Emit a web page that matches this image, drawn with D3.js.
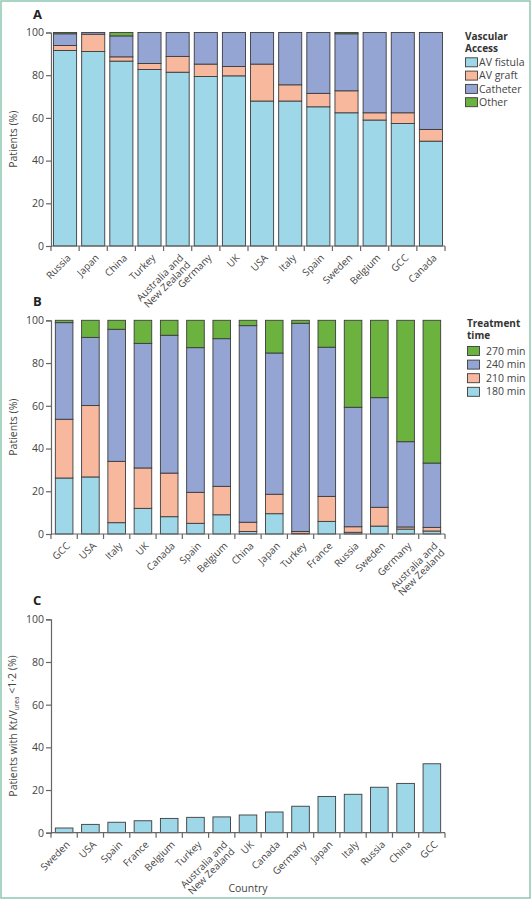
<!DOCTYPE html>
<html><head><meta charset="utf-8">
<script src="https://cdn.jsdelivr.net/npm/d3@7"></script>
<style>
html,body{margin:0;padding:0;background:#fff;}
svg{display:block;font-family:"Open Sans",sans-serif;}
</style></head>
<body><svg id="c" width="532" height="900"></svg>
<script>
// ---------- Data ----------
const accessCountries = ["Russia","Japan","China","Turkey","Australia and\nNew Zealand","Germany","UK","USA","Italy","Spain","Sweden","Belgium","GCC","Canada"];
const avFistula = [91.6,91.1,86.6,82.7,81.4,79.4,79.7,67.9,67.9,65.2,62.4,59.0,57.4,49.1];
const avGraft   = [2.3,8.1,2.0,2.8,7.4,5.8,4.4,17.3,7.6,6.3,10.3,3.4,5.0,5.5];
const catheter  = [5.5,0.8,9.8,14.5,11.2,14.8,15.9,14.8,24.5,28.5,26.7,37.6,37.6,45.4];
const otherAcc  = [0.6,0,1.6,0,0,0,0,0,0,0,0.6,0,0,0];
const accessKeys = ["AV fistula","AV graft","Catheter","Other"];

const timeCountries = ["GCC","USA","Italy","UK","Canada","Spain","Belgium","China","Japan","Turkey","France","Russia","Sweden","Germany","Australia and\nNew Zealand"];
const t180 = [26.2,26.7,5.3,12.0,8.1,5.0,9.0,1.2,9.5,0.3,5.9,0.8,3.7,2.3,1.4];
const t210 = [27.5,33.4,28.7,18.9,20.4,14.5,13.3,4.3,9.1,0.9,11.7,2.6,8.8,1.0,1.7];
const t240 = [45.2,31.9,61.8,58.3,64.5,67.7,69.1,92.0,66.1,97.4,69.8,55.9,51.3,39.9,30.1];
const t270 = [1.1,8.0,4.2,10.8,7.0,12.8,8.6,2.5,15.3,1.4,12.6,40.7,36.2,56.8,66.8];
const timeKeys = ["270 min","240 min","210 min","180 min"];

const ktvCountries = ["Sweden","USA","Spain","France","Belgium","Turkey","Australia and\nNew Zealand","UK","Canada","Germany","Japan","Italy","Russia","China","GCC"];
const ktvValues = [2.2,3.9,4.9,5.6,6.7,7.2,7.4,8.3,9.7,12.4,17.0,18.0,21.3,23.1,32.3];

const yTicks = [0,20,40,60,80,100];

// ---------- Style ----------
const C_FIST="#9dd7e8", C_GRAFT="#f8b89e", C_CATH="#94a4d3", C_OTHER="#6cb23f";
const STROKE="#3c3c3c", AXIS="#666", TXT="#444";

const svg = d3.select("#c");
svg.append("rect").attr("x",1).attr("y",1).attr("width",529).attr("height",897)
  .attr("fill","none").attr("stroke","#8fc7b0").attr("stroke-width",1.5);

function panel(opts){
  const {cats, top, bottom, left, right, frac, label, ytitle, stacks, colors} = opts;
  const g = svg.append("g");
  const x = d3.scaleBand().domain(cats).range([left,right]).padding(0);
  const y = d3.scaleLinear().domain([0,100]).range([bottom,top]);
  const bw = x.bandwidth()*frac;
  const off = (x.bandwidth()-bw)/2;
  stacks.forEach((s,si)=>{
    g.append("g").selectAll("rect").data(s).join("rect")
      .attr("x",d=>x(d.cat)+off).attr("width",bw)
      .attr("y",d=>y(d.y1)).attr("height",d=>Math.max(0,y(d.y0)-y(d.y1)))
      .attr("fill",colors[si]).attr("stroke",STROKE).attr("stroke-width",0.9);
  });
  const ya = g.append("g").attr("transform",`translate(${left},0)`)
    .call(d3.axisLeft(y).tickValues(yTicks).tickSize(5).tickPadding(2));
  ya.select(".domain").attr("stroke",AXIS).attr("stroke-width",1.2);
  ya.selectAll(".tick line").attr("stroke",AXIS).attr("stroke-width",1.2);
  ya.selectAll("text").attr("fill",TXT).style("font-size","10.5px").style("font-family","Open Sans");
  g.append("line").attr("x1",left).attr("x2",right).attr("y1",bottom).attr("y2",bottom)
    .attr("stroke",AXIS).attr("stroke-width",1.2);
  const bounds = cats.map(c=>x(c)).concat([right]);
  g.append("g").selectAll("line").data(bounds).join("line")
    .attr("x1",d=>d).attr("x2",d=>d).attr("y1",bottom).attr("y2",bottom+5)
    .attr("stroke",AXIS).attr("stroke-width",1.2);
  cats.forEach(c=>{
    const cx = x(c)+x.bandwidth()/2;
    const t = g.append("text").attr("text-anchor","end").attr("fill",TXT)
      .style("font-size","10px")
      .attr("transform",`translate(${cx+4},${bottom+10}) rotate(-45)`);
    c.split("\n").forEach((ln,i)=>{
      t.append("tspan").attr("x",0).attr("dy",i===0?"0.35em":"1.0em").text(ln);
    });
  });
  g.append("text").attr("x",33).attr("y",top-14).text(label)
    .style("font-size","13px").style("font-weight","bold").attr("fill","#222");
  const yt = g.append("text").attr("text-anchor","middle").attr("fill",TXT)
    .style("font-size","10.5px")
    .attr("transform",`translate(17,${(top+bottom)/2}) rotate(-90)`);
  ytitle(yt);
  return {x,y};
}

function makeStacks(cats, arrays){
  const res = arrays.map(()=>[]);
  cats.forEach((c,i)=>{
    let acc=0;
    arrays.forEach((a,k)=>{ res[k].push({cat:c,y0:acc,y1:acc+a[i]}); acc+=a[i]; });
  });
  return res;
}

panel({cats:accessCountries, top:32.5, bottom:246, left:51, right:445, frac:0.82, label:"A",
  ytitle:t=>t.text("Patients (%)"),
  stacks:makeStacks(accessCountries,[avFistula,avGraft,catheter,otherAcc]),
  colors:[C_FIST,C_GRAFT,C_CATH,C_OTHER]});

panel({cats:timeCountries, top:320.3, bottom:534, left:51, right:445, frac:0.67, label:"B",
  ytitle:t=>t.text("Patients (%)"),
  stacks:makeStacks(timeCountries,[t180,t210,t240,t270]),
  colors:[C_FIST,C_GRAFT,C_CATH,C_OTHER]});

panel({cats:ktvCountries, top:619.3, bottom:832.7, left:51, right:445, frac:0.67, label:"C",
  ytitle:t=>{
    t.append("tspan").text("Patients with Kt/V");
    t.append("tspan").attr("dy","0.35em").style("font-size","6.5px").text("urea");
    t.append("tspan").attr("dy","-0.35em").text(" <1·2 (%)");
  },
  stacks:makeStacks(ktvCountries,[ktvValues]),
  colors:[C_FIST]});

svg.append("text").attr("x",248).attr("y",892).attr("text-anchor","middle")
  .attr("fill",TXT).style("font-size","10.5px").text("Country");

function legend(x0, titleLines, titleY, keys, colors, itemY, step, textX){
  const g = svg.append("g");
  titleLines.forEach((l,i)=>g.append("text").attr("x",x0).attr("y",titleY+i*12.5)
    .style("font-size","10px").style("font-weight","bold").attr("fill","#333").text(l));
  keys.forEach((k,i)=>{
    const cy = itemY+i*step;
    g.append("rect").attr("x",x0+0.5).attr("y",cy-4.5).attr("width",12).attr("height",9)
      .attr("fill",colors[i]).attr("stroke",STROKE).attr("stroke-width",0.9);
    g.append("text").attr("x",textX).attr("y",cy).attr("dy","0.35em")
      .style("font-size","10.5px").attr("fill",TXT).text(k);
  });
}
legend(465, ["Vascular","Access"], 39.5, accessKeys, [C_FIST,C_GRAFT,C_CATH,C_OTHER], 62.3, 13.3, 479);
legend(467, ["Treatment","time"], 326.5, timeKeys, [C_OTHER,C_CATH,C_GRAFT,C_FIST], 351, 13.6, 486);
</script></body></html>
